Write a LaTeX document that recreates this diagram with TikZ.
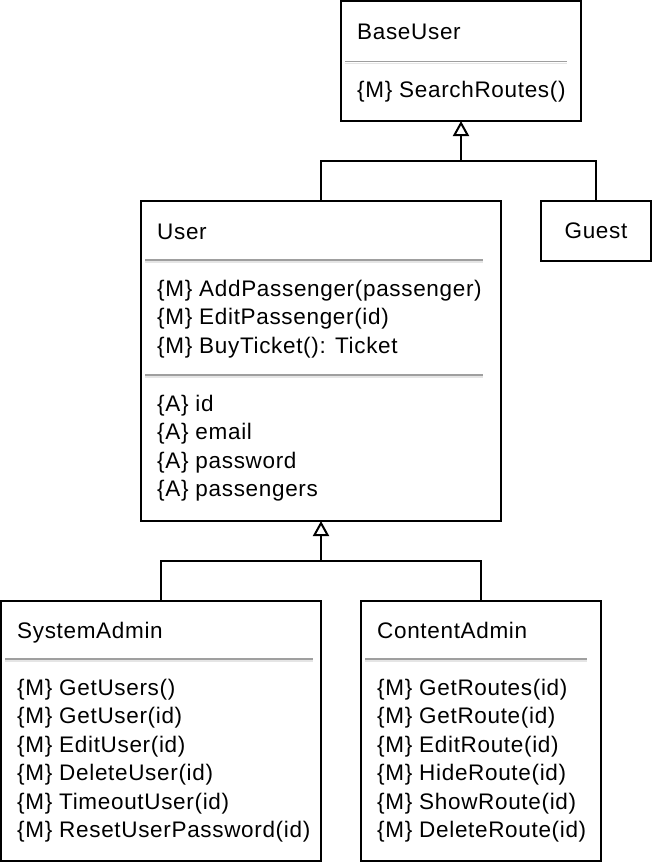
\documentclass[tikz,border=0pt]{standalone}
\usepackage{fontspec}
\setmainfont{Liberation Sans}[LetterSpace=3]
\usetikzlibrary{arrows.meta}

\newcommand{\classfont}{\fontsize{22.5}{28.4}\selectfont}

\begin{document}
\begin{tikzpicture}[x=1pt, y=-1pt, line cap=butt, line join=miter, >=Triangle,
  classbox/.style={draw, line width=2pt, fill=white, anchor=north west, inner sep=0pt, outer sep=0pt},
  member/.style={anchor=base west, inner sep=0pt, align=left, font=\classfont},
  separator/.style={draw=gray!75, line width=1.5pt},
  sepshade/.style={draw=gray!20, line width=1.5pt},
  link/.style={line width=2pt},
  inherit/.style={line width=2pt, -{Triangle[open, width=16pt, length=15pt]}}]

\useasboundingbox (0,0) rectangle (654,862);

%---------------------------------------------------------------------------------------------------
% boxes
\node[classbox, minimum width=240pt, minimum height=120pt] (baseuser) at (341,1) {};
\node[classbox, minimum width=360pt, minimum height=320pt] (user) at (141,201) {};
\node[classbox, minimum width=110pt, minimum height=60pt, anchor=center, font=\classfont] (guest) at (596,231) {Guest};
\node[classbox, minimum width=320pt, minimum height=260pt] (sysadmin) at (1,601) {};
\node[classbox, minimum width=240pt, minimum height=260pt] (contadmin) at (361,601) {};

%---------------------------------------------------------------------------------------------------
% BaseUser (base of a block = its last line)
\node[member] (baseuser-name) at (357,39.5) {BaseUser};
\draw[sepshade] (345,63.5) -- (567,63.5);
\draw[separator] (345,61.5) -- (567,61.5);
\node[member] (baseuser-ops) at (357,97.5) {\{M\} SearchRoutes()};

% User
\node[member] (user-name) at (157,239.5) {User};
\draw[sepshade] (145,262) -- (483,262);
\draw[separator] (145,260) -- (483,260);
\node[member] (user-ops) at (157,353.3) {\{M\} AddPassenger(passenger)\\
  \{M\} EditPassenger(id)\\
  \{M\} BuyTicket(): Ticket};
\draw[sepshade] (145,377) -- (483,377);
\draw[separator] (145,375) -- (483,375);
\node[member] (user-attrs) at (157,496.7) {\{A\} id\\
  \{A\} email\\
  \{A\} password\\
  \{A\} passengers};

% SystemAdmin
\node[member] (sysadmin-name) at (17,638.5) {SystemAdmin};
\draw[sepshade] (5,661) -- (313,661);
\draw[separator] (5,659) -- (313,659);
\node[member] (sysadmin-ops) at (17,837.5) {\{M\} GetUsers()\\
  \{M\} GetUser(id)\\
  \{M\} EditUser(id)\\
  \{M\} DeleteUser(id)\\
  \{M\} TimeoutUser(id)\\
  \{M\} ResetUserPassword(id)};

% ContentAdmin
\node[member] (contadmin-name) at (377,638.5) {ContentAdmin};
\draw[sepshade] (365,661) -- (587,661);
\draw[separator] (365,659) -- (587,659);
\node[member] (contadmin-ops) at (377,837.5) {\{M\} GetRoutes(id)\\
  \{M\} GetRoute(id)\\
  \{M\} EditRoute(id)\\
  \{M\} HideRoute(id)\\
  \{M\} ShowRoute(id)\\
  \{M\} DeleteRoute(id)};

%---------------------------------------------------------------------------------------------------
% generalisation
\coordinate (top-join) at (461,161);
\coordinate (low-join) at (321,561);

\draw[link] (user.north) |- (top-join);
\draw[link] (guest.north) |- (top-join);
\draw[inherit] (top-join) -- (baseuser.south);

\draw[link] (sysadmin.north) |- (low-join);
\draw[link] (contadmin.north) |- (low-join);
\draw[inherit] (low-join) -- (user.south);

\end{tikzpicture}
\end{document}
